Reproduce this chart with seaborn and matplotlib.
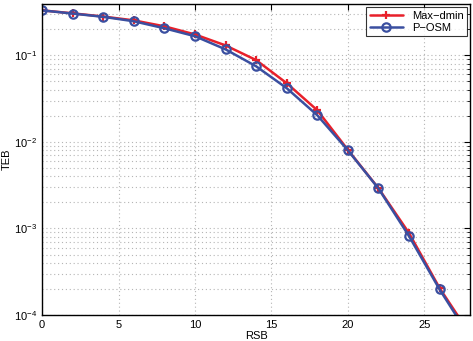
import numpy as np
import pandas as pd
import seaborn as sns
import matplotlib
matplotlib.use("Agg")
import matplotlib.pyplot as plt
from matplotlib.ticker import LogLocator, NullFormatter

snr = [0, 2, 4, 6, 8, 10, 12, 14, 16, 18, 20, 22, 24, 26, 28]
ber_maxdmin = [0.33, 0.305, 0.28, 0.253, 0.216, 0.174, 0.13, 0.088, 0.0476,
               0.0232, 0.0081, 0.00292, 0.000885, 0.000205, 6.0e-5]
ber_posm = [0.33, 0.303, 0.278, 0.247, 0.205, 0.166, 0.117, 0.0746, 0.0417,
            0.0203, 0.0080, 0.00290, 0.000817, 0.000198, 5.5e-5]

df_red = pd.DataFrame({"RSB": snr, "TEB": ber_maxdmin})
df_blue = pd.DataFrame({"RSB": snr, "TEB": ber_posm})

sns.set_style("white")
plt.rcParams["font.family"] = ["Liberation Sans", "DejaVu Sans"]
plt.rcParams["text.color"] = "black"
plt.rcParams["axes.labelcolor"] = "black"
plt.rcParams["xtick.color"] = "black"
plt.rcParams["ytick.color"] = "black"

red = "#e8202a"
blue = "#3a4fa0"

fig = plt.figure(figsize=(4.73, 3.41), dpi=100)
ax = fig.add_axes([0.089, 0.076, 0.905, 0.912])

sns.lineplot(data=df_red, x="RSB", y="TEB", color=red, linewidth=1.8,
             marker="+", markersize=6, markeredgewidth=1.6,
             markeredgecolor=red, label="Max\u2212dmin", ax=ax)
sns.lineplot(data=df_blue, x="RSB", y="TEB", color=blue, linewidth=1.8,
             marker="o", markersize=6, markeredgewidth=1.6,
             markerfacecolor="none", markeredgecolor=blue,
             label="P\u2212OSM", ax=ax)

ax.set_yscale("log")
ax.set_xlim(0, 28)
ax.set_ylim(1e-4, 0.39)
ax.set_xticks([0, 5, 10, 15, 20, 25])
ax.yaxis.set_major_locator(LogLocator(base=10, numticks=10))
ax.yaxis.set_minor_locator(LogLocator(base=10, subs=np.arange(2, 10), numticks=20))
ax.yaxis.set_minor_formatter(NullFormatter())

grid_kw = dict(linestyle=(0, (1, 2.5)), color="#b5b5b5", linewidth=0.8)
ax.grid(True, which="major", axis="both", **grid_kw)
ax.grid(True, which="minor", axis="y", **grid_kw)
ax.tick_params(which="both", direction="in", top=True, right=True, labelsize=8)
ax.tick_params(which="major", length=4)
ax.tick_params(which="minor", length=2)
for s in ax.spines.values():
    s.set_linewidth(1)
    s.set_color("black")

ax.set_xlabel("RSB", fontsize=8, labelpad=1)
ax.set_ylabel("TEB", fontsize=8, labelpad=2)

leg = ax.legend(loc="upper right", fontsize=8, frameon=True, fancybox=False,
                edgecolor="black", borderaxespad=0.3, handlelength=3,
                borderpad=0.3, labelspacing=0.2)
leg.get_frame().set_linewidth(0.8)

fig.savefig("out.png", dpi=100)
